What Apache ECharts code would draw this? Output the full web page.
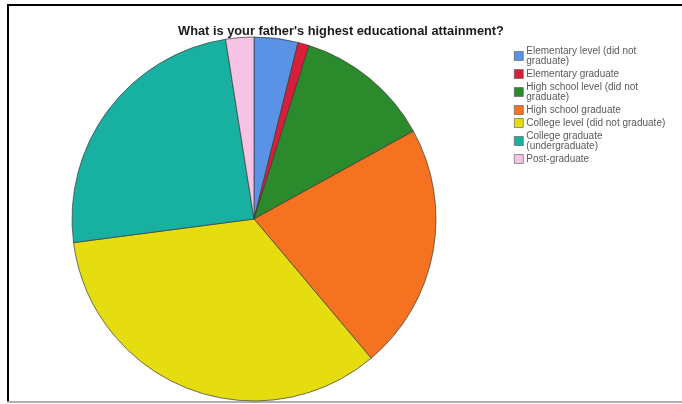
<!DOCTYPE html>
<html>
<head>
<meta charset="utf-8">
<script src="https://cdn.jsdelivr.net/npm/echarts@6/dist/echarts.min.js"></script>
<style>
  html, body { margin: 0; padding: 0; background: #fff; }
  #chart { width: 682px; height: 404px; }
</style>
</head>
<body>
<div id="chart"></div>
<script>
// Survey answers: father's highest educational attainment (percent of respondents)
const titleText = "What is your father's highest educational attainment?";
const categories = [
  "Elementary level (did not\ngraduate)",
  "Elementary graduate",
  "High school level (did not\ngraduate)",
  "High school graduate",
  "College level (did not graduate)",
  "College graduate\n(undergraduate)",
  "Post-graduate"
];
const shares = [3.9, 1.0, 12.1, 21.9, 34.1, 24.6, 2.5];
const sliceColors = ["#5a92e6", "#d81e3a", "#2b8a2b", "#f57220", "#e6dd10", "#18b0a0", "#f7c3e5"];

const chart = echarts.init(document.getElementById('chart'), null, { renderer: 'canvas' });

const pieData = categories.map((name, i) => ({
  name: name,
  value: shares[i],
  itemStyle: { color: sliceColors[i] }
}));

chart.setOption({
  backgroundColor: '#ffffff',
  animation: false,
  title: {
    text: titleText,
    left: 336,
    top: 20,
    textAlign: 'center',
    textStyle: {
      fontFamily: 'Liberation Sans, Arial, sans-serif',
      fontSize: 12.8,
      fontWeight: 'bold',
      color: '#1a1a1a'
    }
  },
  legend: {
    orient: 'vertical',
    left: 509,
    top: 41,
    itemWidth: 9,
    itemHeight: 9,
    itemGap: 3,
    icon: 'rect',
    data: categories,
    itemStyle: { borderColor: '#555', borderWidth: 0.6 },
    textStyle: {
      fontFamily: 'Liberation Sans, Arial, sans-serif',
      fontSize: 10,
      lineHeight: 10,
      color: '#5a5a5a',
      padding: [0, 0, 0, -2]
    }
  },
  graphic: [
    { type: 'rect', shape: { x: 7, y: 4, width: 2, height: 398 }, style: { fill: '#000' }, silent: true },
    { type: 'rect', shape: { x: 7, y: 4, width: 675, height: 2 }, style: { fill: '#000' }, silent: true },
    { type: 'rect', shape: { x: 7, y: 401, width: 675, height: 2 }, style: { fill: '#b0b0b0' }, silent: true }
  ],
  series: [{
    type: 'pie',
    center: [254, 219],
    radius: [0, 182],
    startAngle: 90,
    clockwise: true,
    label: { show: false },
    labelLine: { show: false },
    itemStyle: { borderColor: '#3a3a3a', borderWidth: 0.7 },
    emphasis: { disabled: true },
    data: pieData
  }]
});
</script>
</body>
</html>
